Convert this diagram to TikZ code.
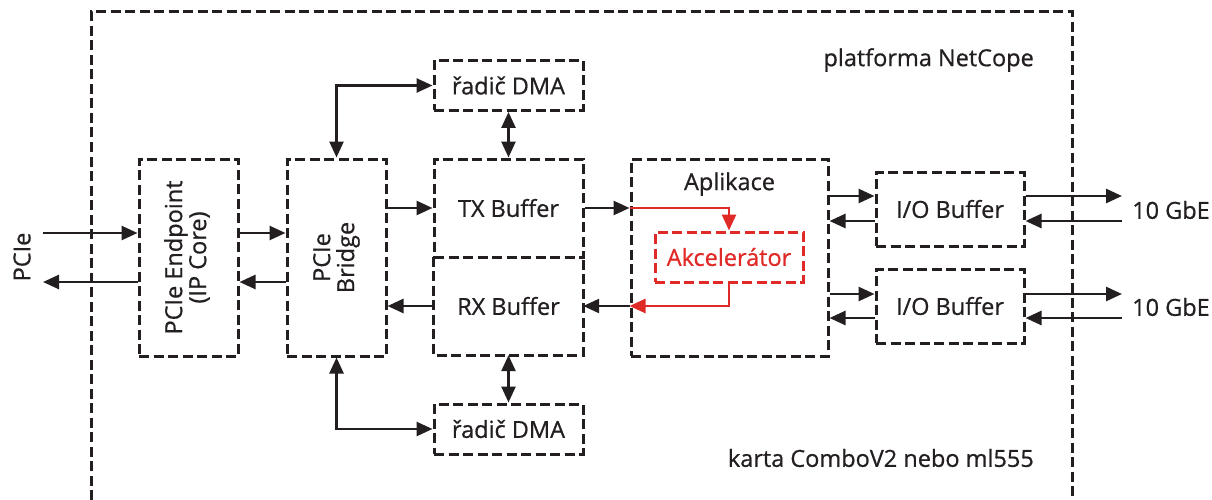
\documentclass[tikz,border=0pt]{standalone}
\usepackage{fontspec}
\setmainfont[FakeBold=0.7]{Open Sans}
\usetikzlibrary{arrows.meta,calc}
\definecolor{ink}{HTML}{231F20}
\definecolor{accred}{HTML}{E02A27}
\tikzset{
  box/.style={draw=ink, line width=3pt, dash pattern=on 10pt off 4.5pt, rectangle, inner sep=0pt, text=ink, align=center},
  plainbox/.style={rectangle, inner sep=0pt, text=ink, align=center},
  redbox/.style={draw=accred, line width=3pt, dash pattern=on 10pt off 4.5pt, rectangle, inner sep=0pt, text=accred},
  arr/.style={draw=ink, line width=2.6pt, -{Triangle[length=16pt,width=14pt]}},
  darr/.style={draw=ink, line width=2.6pt, {Triangle[length=16pt,width=14pt]}-{Triangle[length=16pt,width=14pt]}},
  rarr/.style={draw=accred, line width=2.6pt, -{Triangle[length=16pt,width=14pt]}},
  lbl/.style={text=ink, inner sep=0pt}
}
\begin{document}
\begin{tikzpicture}[x=1pt,y=-1pt, font=\fontsize{23.5}{28}\selectfont]
\useasboundingbox (0,0) rectangle (1212,500);
% outer board border (open at bottom)
\draw[draw=ink, line width=3pt, dash pattern=on 10pt off 4.5pt] (91,500) -- (91,12) -- (1072,12) -- (1072,500);
\node[lbl, anchor=east] (plat) at (1034,60) {platforma NetCope};
\node[lbl, anchor=east] (karta) at (1034,458) {karta ComboV2 nebo ml555};

% boxes
\node[box, minimum width=99pt, minimum height=197pt] (ep) at (188.5,257.5)
  {\rotatebox{90}{\begin{tabular}{@{}c@{}}PCIe Endpoint\\[-4pt](IP Core)\end{tabular}}};
\node[box, minimum width=99pt, minimum height=197pt] (br) at (336.5,257.5)
  {\rotatebox{90}{\begin{tabular}{@{}c@{}}PCIe\\[-4pt]Bridge\end{tabular}}};
\node[box, minimum width=149pt, minimum height=98pt] (tx) at (508.5,208) {TX Buffer};
\node[plainbox, minimum width=149pt, minimum height=98pt] (rx) at (508.5,306) {RX Buffer};
\draw[draw=ink, line width=3pt, dash pattern=on 10pt off 4.5pt]
  (rx.north west) -- (rx.south west) -- (rx.south east) -- (rx.north east);
\node[box, minimum width=149pt, minimum height=50pt] (dma1) at (508.5,85.5) {řadič DMA};
\node[box, minimum width=149pt, minimum height=50pt] (dma2) at (508.5,429) {řadič DMA};
\node[box, minimum width=197pt, minimum height=197pt] (app) at (729.5,257.5) {};
\node[lbl] (apptxt) at (729.5,184) {Aplikace};
\node[redbox, minimum width=148pt, minimum height=50pt] (acc) at (729,257) {Akcelerátor};
\node[box, minimum width=148pt, minimum height=74pt] (io1) at (950,209) {I/O Buffer};
\node[box, minimum width=148pt, minimum height=74pt] (io2) at (950,306) {I/O Buffer};

% free ends
\node[lbl, rotate=90] (pcie) at (22,257) {PCIe};
\coordinate (pin) at (43,233);
\coordinate (pout) at (43,282);
\node[lbl, anchor=west] (gbe1) at (1132,210) {10 GbE};
\node[lbl, anchor=west] (gbe2) at (1132,307) {10 GbE};
\coordinate (e1o) at (1122,196);
\coordinate (e1i) at (1122,221);
\coordinate (e2o) at (1122,294);
\coordinate (e2i) at (1122,318);

% PCIe side
\draw[arr] (pin) -- (pin -| ep.west);
\draw[arr] (pout -| ep.west) -- (pout);
\draw[arr] (pin -| ep.east) -- (pin -| br.west);
\draw[arr] (pout -| br.west) -- (pout -| ep.east);

% bridge - buffers
\draw[arr] (br.east |- tx.west) -- (tx.west);
\draw[arr] (rx.west) -- (br.east |- rx.west);
\draw[darr] (br.north) |- (dma1.west);
\draw[darr] (br.south) |- (dma2.west);
\draw[darr] (dma1.south) -- (tx.north);
\draw[darr] (rx.south) -- (dma2.north);

% buffers - application
\draw[arr] (tx.east) -- (app.west |- tx.east);
\draw[arr] (app.west |- rx.east) -- (rx.east);
\draw[rarr] (app.west |- tx.east) -| (acc.north);
\draw[rarr] (acc.south) |- (app.west |- rx.east);

% application - I/O
\draw[arr] (app.east |- e1o) -- (io1.west |- e1o);
\draw[arr] (io1.west |- e1i) -- (app.east |- e1i);
\draw[arr] (app.east |- e2o) -- (io2.west |- e2o);
\draw[arr] (io2.west |- e2i) -- (app.east |- e2i);

% I/O - 10 GbE
\draw[arr] (io1.east |- e1o) -- (e1o);
\draw[arr] (e1i) -- (io1.east |- e1i);
\draw[arr] (io2.east |- e2o) -- (e2o);
\draw[arr] (e2i) -- (io2.east |- e2i);
\end{tikzpicture}
\end{document}
